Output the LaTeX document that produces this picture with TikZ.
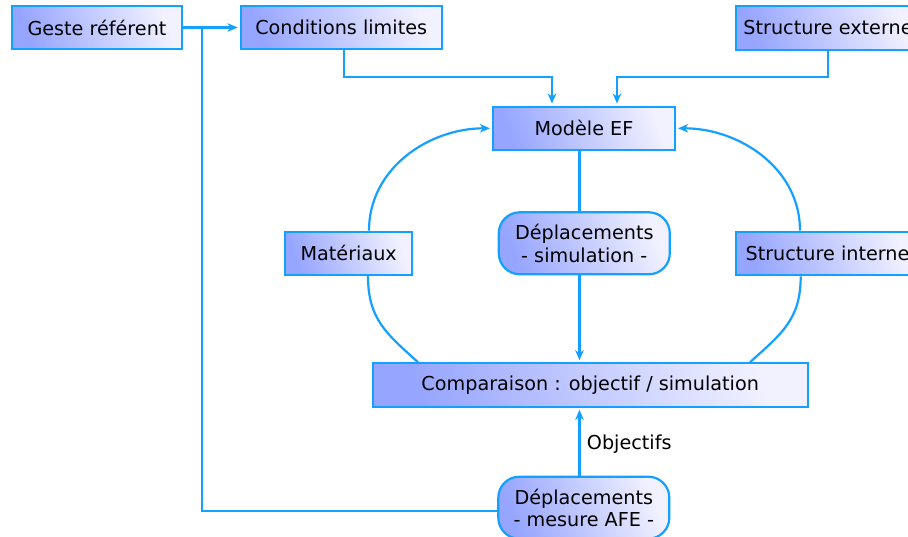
\documentclass[tikz,border=0pt]{standalone}
\usepackage{fontspec}
\setmainfont{DejaVu Sans}
\usetikzlibrary{arrows.meta,calc}
\definecolor{lineblue}{RGB}{20,160,255}
\definecolor{boxL}{RGB}{150,165,255}
\definecolor{boxR}{RGB}{242,242,255}
\tikzset{
  box/.style={draw=lineblue, line width=2.2pt, left color=boxL, right color=boxR, shading angle=110,
    inner sep=0pt, font=\fontsize{19.2}{22.4}\selectfont, align=center, text=black},
  rbox/.style={box, rounded corners=21pt},
  conn/.style={draw=lineblue, line width=2.2pt},
  arr/.style={conn, -{Stealth[length=10pt,width=8.5pt,inset=3pt]}, shorten >=2pt},
}
\begin{document}
\begin{tikzpicture}[x=1pt,y=-1pt]
\useasboundingbox (0,0) rectangle (908,537);
\clip (0,0) rectangle (908,537);
\fill[white] (0,0) rectangle (908,537);
% nodes
\node[box, minimum width=170pt, minimum height=43.6pt] (geste) at (97,27.5) {Geste référent};
\node[box, minimum width=201pt, minimum height=43.6pt] (cond) at (341.2,27.5) {Conditions limites};
\node[box, minimum width=184pt, minimum height=44pt] (ext) at (828,28) {Structure externe};
\node[box, minimum width=182pt, minimum height=43.3pt] (modele) at (584,128.3) {Modèle EF};
\node[box, minimum width=127pt, minimum height=43.3pt] (mat) at (348.7,253.3) {Matériaux};
\node[rbox, minimum width=171pt, minimum height=62pt] (sim) at (584.3,243.3) {Déplacements\\- simulation -};
\node[box, minimum width=183pt, minimum height=43.6pt] (inter) at (827.5,253.5) {Structure interne};
\node[box, minimum width=435pt, minimum height=43.4pt] (comp) at (590.2,385) {Comparaison : objectif / simulation};
\node[rbox, minimum width=171pt, minimum height=62pt] (mes) at (583.8,507.7) {Déplacements\\- mesure AFE -};
% helper coordinates
\coordinate (J) at (202,27.5);
\coordinate (c1) at (552,77);
\coordinate (c2) at (617,77);
\coordinate (vx) at (579.5,0);
\coordinate (xl1) at (369,0);
\coordinate (xl2) at (368,0);
\coordinate (xl3) at (418,0);
\coordinate (xr1) at (800,0);
\coordinate (xr2) at (800.7,0);
\coordinate (xr3) at (750,0);
% connectors
\draw[arr] (geste.east) -- (cond.west);
\draw[conn] (J) |- ([yshift=-3pt]mes.west);
\draw[arr] ([xshift=3pt]cond.south) |- (c1) -- (c1 |- modele.north);
\draw[arr] (ext.south) |- (c2) -- (c2 |- modele.north);
\draw[conn] (vx |- modele.south) -- (vx |- sim.north);
\draw[arr] (vx |- sim.south) -- (vx |- comp.north);
\draw[arr] (vx |- mes.north) -- node[pos=0.46, right=3pt, font=\fontsize{19.2}{22.4}\selectfont, text=black] {Objectifs} (vx |- comp.south);
\draw[arr] (xl1 |- mat.north) to[out=90,in=180] (modele.west);
\draw[conn] (xl2 |- mat.south) to[out=-90,in=138,looseness=1.1] (xl3 |- comp.north);
\draw[arr] (xr1 |- inter.north) to[out=90,in=0] (modele.east);
\draw[conn] (xr2 |- inter.south) to[out=-90,in=42,looseness=1.1] (xr3 |- comp.north);
\end{tikzpicture}
\end{document}
